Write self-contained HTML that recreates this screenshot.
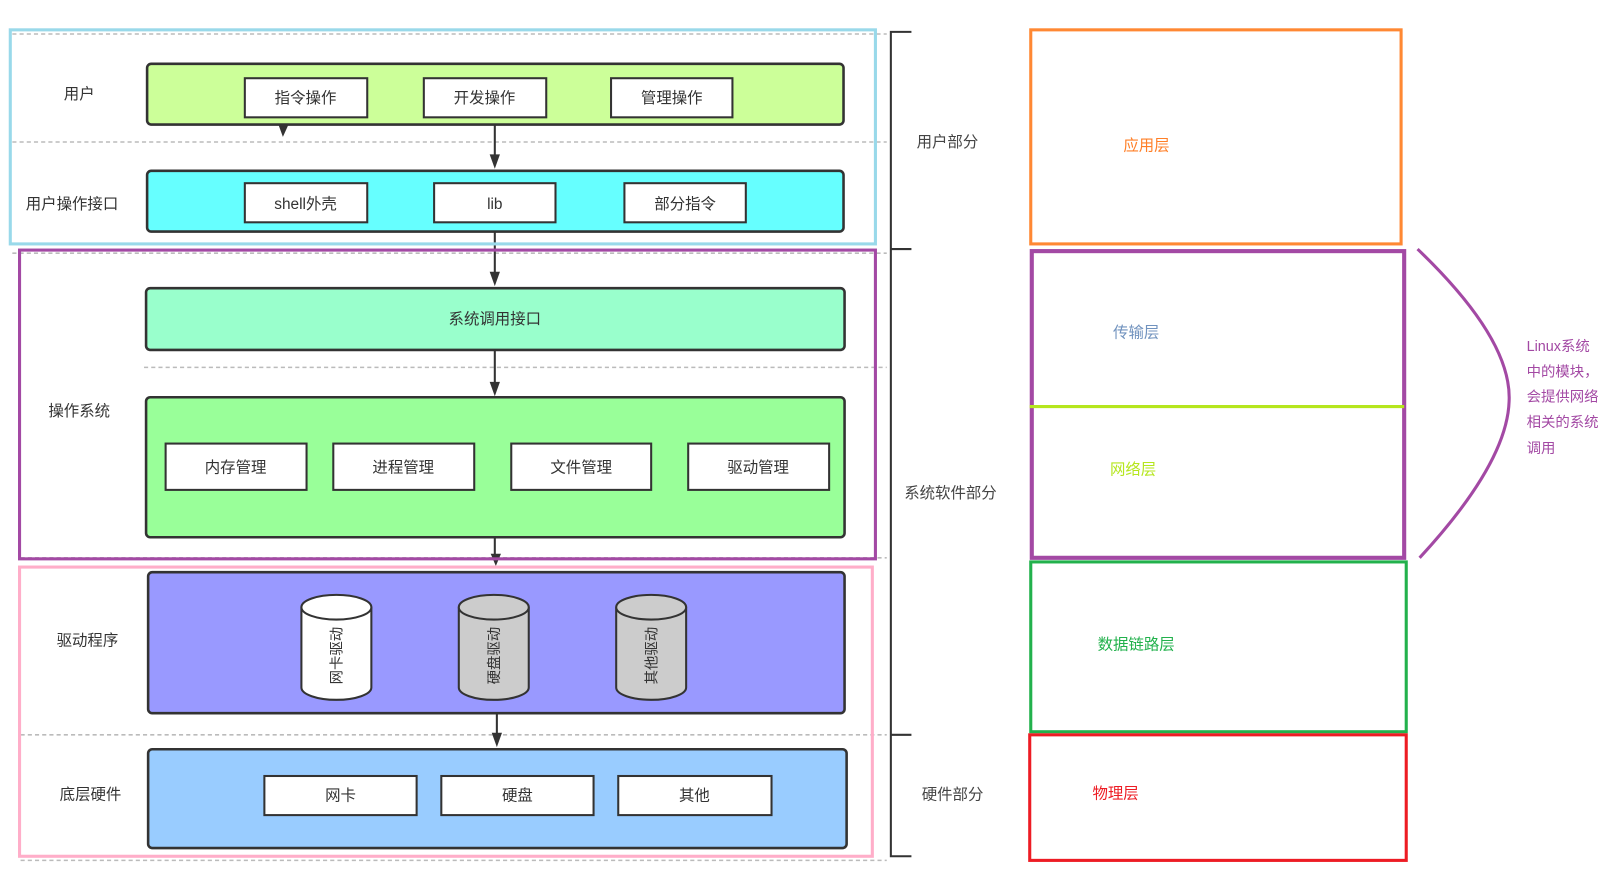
<!DOCTYPE html>
<html><head><meta charset="utf-8"><style>
html,body{margin:0;padding:0;background:#fff;}
svg{display:block;}
text{font-family:"Liberation Sans","Noto Sans CJK SC",sans-serif;}
</style></head><body>
<svg width="1613" height="882" viewBox="0 0 1568 857" preserveAspectRatio="none" xmlns="http://www.w3.org/2000/svg">
<defs><marker id="a" markerWidth="10" markerHeight="10" refX="5" refY="9" orient="auto" markerUnits="userSpaceOnUse"><path d="M0,0 L10,0 L5,10 z" fill="#333" transform="rotate(-90 5 5)"/></marker></defs>
<g stroke="#bbb" stroke-width="1.5" stroke-dasharray="4,3">
<line x1="12" y1="33" x2="862" y2="33"/><line x1="12" y1="138" x2="862" y2="138"/>
<line x1="12" y1="246" x2="862" y2="246"/><line x1="140" y1="357" x2="862" y2="357"/>
<line x1="20" y1="542" x2="862" y2="542"/><line x1="20" y1="714" x2="862" y2="714"/>
<line x1="20" y1="836" x2="862" y2="836"/></g>
<g fill="#333" font-size="15" text-anchor="middle">
<text x="77" y="96">用户</text><text x="70" y="203">用户操作接口</text><text x="77" y="404">操作系统</text><text x="85" y="627">驱动程序</text><text x="88" y="777">底层硬件</text></g>
<g stroke="#333" stroke-width="2.5">
<rect x="143" y="62" width="677" height="59" rx="4" fill="#ccff99"/>
<rect x="143" y="166" width="677" height="59" rx="4" fill="#66ffff"/>
<rect x="142" y="280" width="679" height="60" rx="4" fill="#99ffcc"/>
<rect x="142" y="386" width="679" height="136" rx="4" fill="#99ff99"/>
<rect x="144" y="556" width="677" height="137" rx="4" fill="#9999ff"/>
<rect x="144" y="728" width="679" height="96" rx="4" fill="#99ccff"/>
</g>
<g stroke="#333" stroke-width="2" fill="#fff">
<rect x="238" y="76" width="119" height="38"/><rect x="412" y="76" width="119" height="38"/><rect x="594" y="76" width="118" height="38"/>
<rect x="238" y="178" width="119" height="38"/><rect x="422" y="178" width="118" height="38"/><rect x="607" y="178" width="118" height="38"/>
<rect x="161" y="431" width="137" height="45"/><rect x="324" y="431" width="137" height="45"/><rect x="497" y="431" width="136" height="45"/><rect x="669" y="431" width="137" height="45"/>
<rect x="257" y="754" width="148" height="38"/><rect x="429" y="754" width="148" height="38"/><rect x="601" y="754" width="149" height="38"/>
</g>
<g fill="#333" font-size="15" text-anchor="middle">
<text x="297" y="100">指令操作</text><text x="471" y="100">开发操作</text><text x="653" y="100">管理操作</text>
<text x="297" y="203">shell外壳</text><text x="481" y="203">lib</text><text x="666" y="203">部分指令</text>
<text x="481" y="315">系统调用接口</text>
<text x="229" y="459">内存管理</text><text x="392" y="459">进程管理</text><text x="565" y="459">文件管理</text><text x="737" y="459">驱动管理</text>
<text x="331" y="778">网卡</text><text x="503" y="778">硬盘</text><text x="675" y="778">其他</text></g>
<g stroke="#333" stroke-width="2">
<g fill="#fff"><path d="M293,590 L293,668 A34,12 0 0 0 361,668 L361,590"/><ellipse cx="327" cy="590" rx="34" ry="12"/></g>
<g fill="#ccc"><path d="M446,590 L446,668 A34,12 0 0 0 514,668 L514,590"/><ellipse cx="480" cy="590" rx="34" ry="12"/>
<path d="M599,590 L599,668 A34,12 0 0 0 667,668 L667,590"/><ellipse cx="633" cy="590" rx="34" ry="12"/></g>
</g>
<g fill="#333" font-size="14" text-anchor="middle">
<text transform="translate(332,637) rotate(-90)">网卡驱动</text>
<text transform="translate(485,637) rotate(-90)">硬盘驱动</text>
<text transform="translate(638,637) rotate(-90)">其他驱动</text></g>
<g stroke="#333" stroke-width="2" fill="none">
<line x1="481" y1="121" x2="481" y2="152"/><line x1="481" y1="225" x2="481" y2="266"/>
<line x1="481" y1="340" x2="481" y2="373"/><line x1="481" y1="522" x2="481" y2="540"/><line x1="483" y1="693" x2="483" y2="714"/></g>
<g fill="#333">
<path d="M476,150 L486,150 L481,164 z"/><path d="M476,264 L486,264 L481,278 z"/><path d="M476,371 L486,371 L481,385 z"/>
<path d="M477,538 L487,538 L482,550 z"/><path d="M478,712 L488,712 L483,726 z"/><path d="M271,122 L280,122 L275,133 z"/></g>
<rect x="10" y="29" width="841" height="208" fill="none" stroke="#99d9ea" stroke-width="3"/>
<rect x="19" y="243" width="832" height="300" fill="none" stroke="#a349a4" stroke-width="3"/>
<rect x="19" y="551" width="829" height="281" fill="none" stroke="#ffaec9" stroke-width="3"/>
<path d="M886,31 L866,31 L866,832 L886,832 M866,242 L886,242 M866,714 L886,714" fill="none" stroke="#333" stroke-width="2"/>
<g fill="#444" font-size="15"><text x="891" y="143">用户部分</text><text x="879" y="484">系统软件部分</text><text x="896" y="777">硬件部分</text></g>
<rect x="1002" y="29" width="360" height="208" fill="none" stroke="#ff8833" stroke-width="3"/>
<rect x="1003" y="244" width="362" height="298" fill="none" stroke="#a349a4" stroke-width="4"/>
<line x1="1001" y1="395" x2="1365" y2="395" stroke="#b5e61d" stroke-width="3"/>
<rect x="1002" y="546" width="365" height="165" fill="none" stroke="#22b14c" stroke-width="3"/>
<rect x="1001" y="714" width="366" height="122" fill="none" stroke="#ed1c24" stroke-width="3"/>
<g font-size="15">
<text x="1092" y="146" fill="#ff7f27">应用层</text><text x="1082" y="328" fill="#7092be">传输层</text>
<text x="1079" y="461" fill="#b5e61d">网络层</text><text x="1067" y="631" fill="#22b14c">数据链路层</text>
<text x="1062" y="776" fill="#ed1c24">物理层</text></g>
<path d="M1378,242 Q1470,330 1467,390 Q1465,450 1380,542" fill="none" stroke="#a349a4" stroke-width="3"/>
<g font-size="14" fill="#a349a4"><text x="1484" y="341">Linux系统</text><text x="1484" y="366">中的模块，</text><text x="1484" y="390">会提供网络</text><text x="1484" y="415">相关的系统</text><text x="1484" y="440">调用</text></g>
</svg>
</body></html>
